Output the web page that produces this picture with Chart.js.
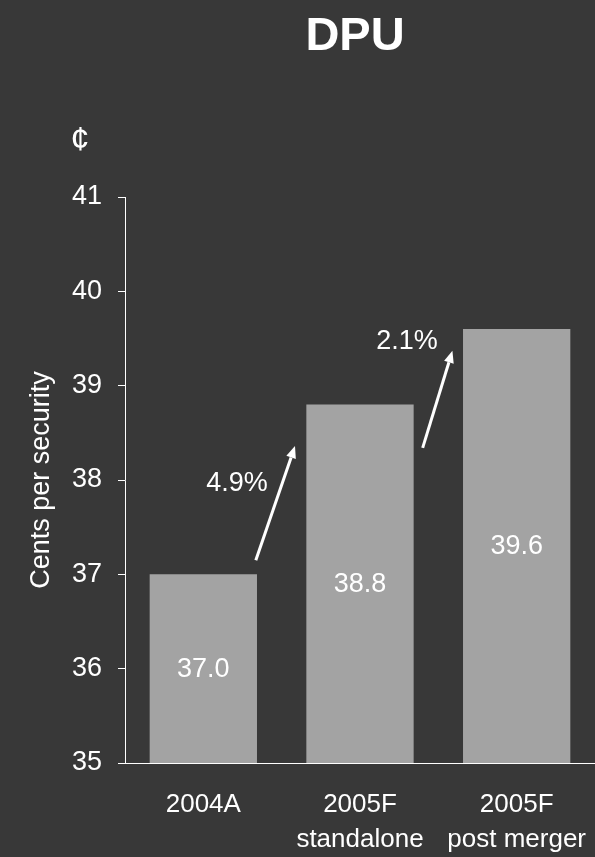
<!DOCTYPE html>
<html>
<head>
<meta charset="utf-8">
<script src="https://cdn.jsdelivr.net/npm/chart.js@4/dist/chart.umd.min.js"></script>
<style>
  html, body { margin: 0; padding: 0; background: #383838; }
  #wrap { width: 595px; height: 857px; position: relative; }
</style>
</head>
<body>
<div id="wrap"><canvas id="c" width="595" height="857"></canvas></div>
<script>
// ---- data ----
const categories = [["2004A"], ["2005F", "standalone"], ["2005F", "post merger"]];
const dpuValues = [37.0, 38.8, 39.6];
const growthLabels = ["4.9%", "2.1%"];
const yMin = 35, yMax = 41, yStep = 1;
const chartTitle = "DPU";
const unitLabel = "¢";
const yAxisTitle = "Cents per security";

// ---- annotation layout (category index offset, value) ----
const arrowLayout = [
  { from: [0.335, 37.15], to: [0.585, 38.36] },
  { from: [1.40, 38.34], to: [1.59, 39.37] }
];
const growthLabelLayout = [[0.215, 37.96], [1.30, 39.47]];

const FONT = '"Liberation Sans", Arial, sans-serif';
const BG = '#383838';
const BAR = '#a3a3a3';

const decor = {
  id: 'decor',
  beforeDraw(chart) {
    const ctx = chart.ctx;
    ctx.save();
    ctx.fillStyle = BG;
    ctx.fillRect(0, 0, chart.width, chart.height);
    ctx.restore();
  },
  afterDraw(chart) {
    const ctx = chart.ctx;
    const xs = chart.scales.x, ys = chart.scales.y;
    const catW = xs.getPixelForValue(1) - xs.getPixelForValue(0);
    const px = v => xs.getPixelForValue(0) + v * catW;
    ctx.save();
    // title
    ctx.fillStyle = '#ffffff';
    ctx.textAlign = 'center';
    ctx.textBaseline = 'middle';
    ctx.font = 'bold 47px ' + FONT;
    ctx.fillText(chartTitle, 355, 37);
    // unit
    ctx.font = '34px ' + FONT;
    ctx.fillText(unitLabel, 80, 141);
    // bar value labels (centred inside the visible part of each bar)
    ctx.font = '27px ' + FONT;
    const meta = chart.getDatasetMeta(0);
    meta.data.forEach((bar, i) => {
      const top = ys.getPixelForValue(dpuValues[i]);
      const bottom = ys.bottom;
      ctx.fillText(dpuValues[i].toFixed(1), bar.x, (top + bottom) / 2 + 1);
    });
    // growth labels
    growthLabels.forEach((t, i) => {
      const [c, v] = growthLabelLayout[i];
      ctx.fillText(t, px(c), ys.getPixelForValue(v));
    });
    // arrows
    ctx.strokeStyle = '#ffffff';
    ctx.lineWidth = 3;
    arrowLayout.forEach(a => {
      const x1 = px(a.from[0]), y1 = ys.getPixelForValue(a.from[1]);
      const x2 = px(a.to[0]), y2 = ys.getPixelForValue(a.to[1]);
      const ang = Math.atan2(y2 - y1, x2 - x1);
      const hl = 12, hw = 5;
      const bx = x2 - hl * Math.cos(ang), by = y2 - hl * Math.sin(ang);
      ctx.beginPath();
      ctx.moveTo(x1, y1);
      ctx.lineTo(bx, by);
      ctx.stroke();
      ctx.beginPath();
      ctx.moveTo(x2, y2);
      ctx.lineTo(bx + hw * Math.sin(ang), by - hw * Math.cos(ang));
      ctx.lineTo(bx - hw * Math.sin(ang), by + hw * Math.cos(ang));
      ctx.closePath();
      ctx.fill();
    });
    ctx.restore();
  }
};

new Chart(document.getElementById('c'), {
  type: 'bar',
  data: {
    labels: categories,
    datasets: [{
      data: dpuValues,
      backgroundColor: BAR,
      borderWidth: 0,
      categoryPercentage: 1.0,
      barPercentage: 0.685
    }]
  },
  options: {
    responsive: false,
    animation: false,
    devicePixelRatio: 1,
    layout: { padding: { top: 197, right: 0, left: 0, bottom: 0 } },
    plugins: { legend: { display: false }, tooltip: { enabled: false }, title: { display: false } },
    scales: {
      x: {
        grid: { display: false, drawTicks: false },
        border: { display: true, color: '#ffffff', width: 1 },
        ticks: {
          color: '#ffffff',
          font: { family: FONT, size: 26, lineHeight: 1.35 },
          padding: 24,
          maxRotation: 0,
          autoSkip: false
        },
        afterFit(s) { s.height = 94; s.paddingLeft = 0; s.paddingRight = 0; }
      },
      y: {
        min: yMin, max: yMax,
        grid: { drawOnChartArea: false, drawTicks: true, tickLength: 7, color: '#ffffff' },
        border: { display: true, color: '#ffffff', width: 1 },
        ticks: {
          stepSize: yStep,
          color: '#ffffff',
          font: { family: FONT, size: 27 },
          padding: 16
        },
        title: {
          display: true,
          text: yAxisTitle,
          color: '#ffffff',
          font: { family: FONT, size: 27 },
          padding: { top: 25, bottom: 0 }
        },
        afterFit(s) { s.width = 125; s.paddingTop = 0; s.paddingBottom = 0; }
      }
    }
  },
  plugins: [decor]
});
</script>
</body>
</html>
